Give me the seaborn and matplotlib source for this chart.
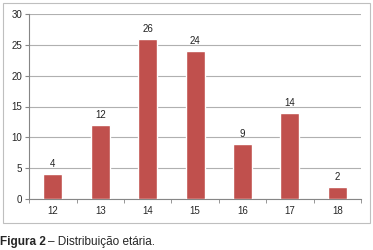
import pandas as pd
import matplotlib.pyplot as plt
import seaborn as sns
from matplotlib.patches import Rectangle

# --- datos ---
idades = ['12', '13', '14', '15', '16', '17', '18']
contagens = [4, 12, 26, 24, 9, 14, 2]

df = pd.DataFrame({'idade': idades, 'n': contagens})

sns.set_style('white')
plt.rcParams['font.family'] = ['Liberation Sans', 'DejaVu Sans']

fig = plt.figure(figsize=(3.73, 2.5), dpi=100)
ax = fig.add_axes([0.078, 0.204, 0.89, 0.74])

sns.barplot(data=df, x='idade', y='n', color='#C0504D', saturation=1,
            width=0.4, ax=ax, zorder=3)

# rótulos das barras
for i, v in enumerate(contagens):
    ax.text(i, v + 0.8, str(v), ha='center', va='bottom', fontsize=7, color='#222222')

ax.set_ylim(0, 30)
ax.set_xlim(-0.5, len(idades) - 0.5)
ax.set_yticks(range(0, 31, 5))
ax.yaxis.grid(True, color='#B0B0B0', linewidth=0.8, zorder=0)
ax.set_axisbelow(True)
ax.set_xlabel('')
ax.set_ylabel('')

# marcas do eixo x nas fronteiras das categorias
ax.set_xticks([i - 0.5 for i in range(len(idades) + 1)], minor=True)
ax.tick_params(axis='x', which='major', length=0, labelsize=7, pad=5)
ax.tick_params(axis='x', which='minor', length=3, color='#868686', direction='out', bottom=True)
ax.tick_params(axis='y', length=3, color='#868686', labelsize=7, left=True, pad=2)

for s in ['top', 'right']:
    ax.spines[s].set_visible(False)
for s in ['left', 'bottom']:
    ax.spines[s].set_color('#868686')
    ax.spines[s].set_linewidth(0.8)

# moldura do gráfico
fig.patches.append(Rectangle((3 / 373, 1 - 223 / 250), 367 / 373, 220 / 250,
                             transform=fig.transFigure, fill=False,
                             edgecolor='#BFBFBF', linewidth=0.8))

# legenda da figura
t1 = fig.text(0.0, 1 - 242 / 250, 'Figura 2', fontsize=8.5, fontweight='bold', va='center')
fig.canvas.draw()
bb = t1.get_window_extent().transformed(fig.transFigure.inverted())
fig.text(bb.x1 + 0.007, 1 - 242 / 250, '– Distribuição etária.', fontsize=8.5, va='center')

plt.savefig('out.png', dpi=100, facecolor='white')
